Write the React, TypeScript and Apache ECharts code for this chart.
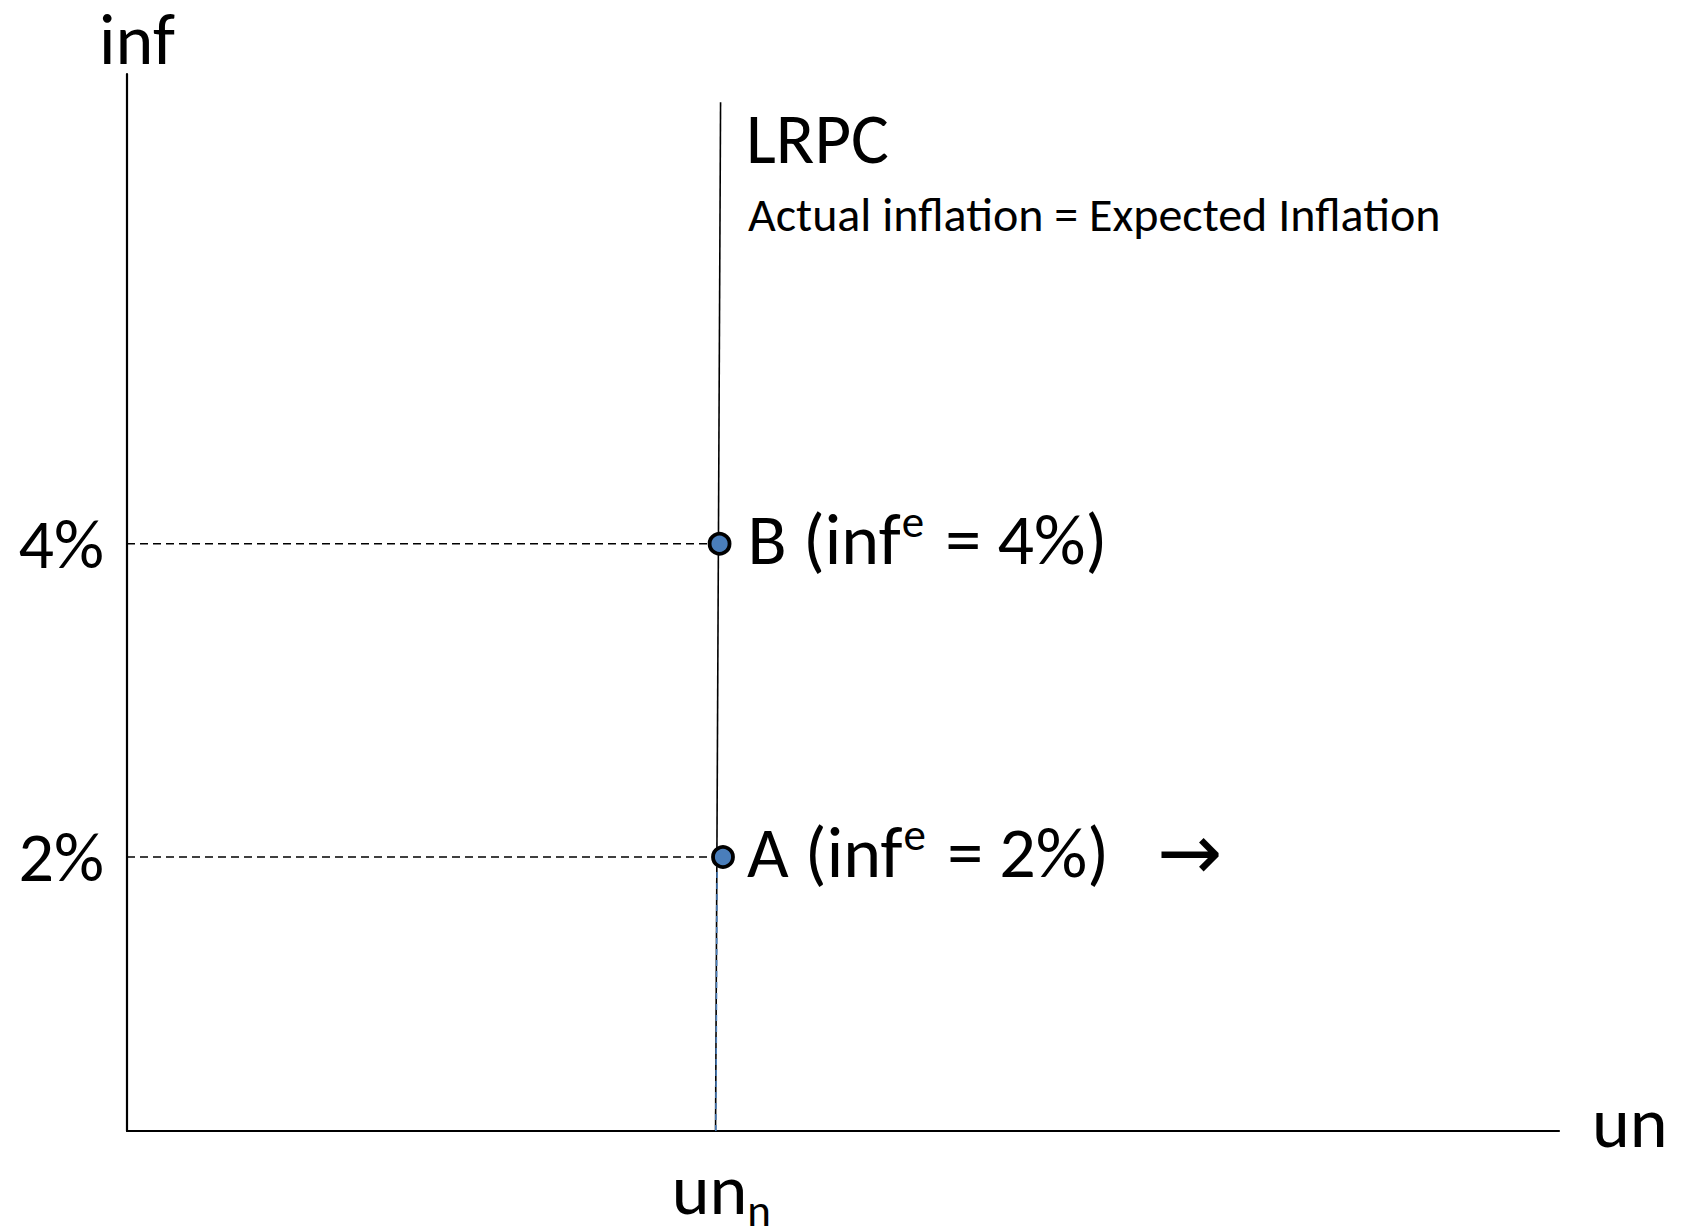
import React, { useEffect, useRef } from 'react';
import * as echarts from 'echarts';

// ---- data ----
const xMin = 0;
const xMax = 100;
const yMin = 0.25;
const yMax = 7;
const unNatural = 41.5; // tick position of un_n label
const lrpcX = [41.1, 41.45];
const lrpcY = [0.25, 6.82];
const pointNames = ['A', 'B'];
const pointX = [41.62, 41.38];
const pointInf = [2, 4];
const yTickValues = [2, 4];
const xTickValues = [unNatural];

const FONT = 'Carlito, Lato, sans-serif';
const BLUE = '#4a7ebb';

export default function App() {
  const ref = useRef<HTMLDivElement>(null);
  useEffect(() => {
    if (!ref.current) return;
    const chart = echarts.init(ref.current, undefined, { renderer: 'svg' });

    const dashSeries = pointNames.map((n, i) => ({
      type: 'line',
      name: 'dash' + n,
      data: [
        [xMin, pointInf[i]],
        [pointX[i], pointInf[i]],
      ],
      symbol: 'none',
      lineStyle: { color: '#000', width: 1.6, type: [8, 5] },
      z: 2,
    }));

    const labelRich = {
      t: { fontSize: 72, lineHeight: 72, fontFamily: FONT, color: '#000', verticalAlign: 'top', padding: [4, 0, 0, 0] },
      s: { fontSize: 45, lineHeight: 40, fontFamily: FONT, color: '#000', verticalAlign: 'top', padding: [0, 5, 0, 1] },
      r: { fontSize: 78, lineHeight: 72, fontFamily: 'DejaVu Sans', color: '#000', verticalAlign: 'top', padding: [1, 0, 0, 48] },
    };

    const option = {
      animation: false,
      grid: { left: 127, right: 124, top: 74, bottom: 101, containLabel: false, outerBoundsMode: 'none' },
      xAxis: {
        type: 'value',
        min: xMin,
        max: xMax,
        splitLine: { show: false },
        axisTick: { show: false },
        axisLine: { show: true, onZero: false, lineStyle: { color: '#000', width: 2.2 } },
        axisLabel: {
          customValues: xTickValues,
          margin: 22,
          formatter: () => '{a|un}{b|n}',
          rich: {
            a: { fontSize: 72, lineHeight: 66, fontFamily: FONT, color: '#000', verticalAlign: 'top' },
            b: { fontSize: 45, lineHeight: 20, fontFamily: FONT, color: '#000', verticalAlign: 'top', padding: [35, 0, 0, 0] },
          },
        },
      },
      yAxis: {
        type: 'value',
        min: yMin,
        max: yMax,
        splitLine: { show: false },
        axisTick: { show: false },
        axisLine: { show: true, onZero: false, lineStyle: { color: '#000', width: 2.2 } },
        axisLabel: {
          customValues: yTickValues,
          margin: 23,
          fontSize: 70,
          fontFamily: FONT,
          color: '#000',
          formatter: (v: number) => v + '%',
        },
      },
      series: [
        {
          type: 'line',
          name: 'LRPC',
          data: [
            [lrpcX[0], lrpcY[0]],
            [lrpcX[1], lrpcY[1]],
          ],
          symbol: 'none',
          lineStyle: { color: '#000', width: 1.6 },
          z: 2,
        },
        {
          type: 'line',
          name: 'down',
          data: [
            [lrpcX[0] + 0.02, yMin],
            [lrpcX[0] + 0.02 + ((lrpcX[1] - lrpcX[0]) * (pointInf[0] - yMin)) / (lrpcY[1] - lrpcY[0]), pointInf[0]],
          ],
          symbol: 'none',
          lineStyle: { color: BLUE, width: 1.6, type: [6, 5] },
          z: 3,
        },
        ...dashSeries,
        {
          type: 'scatter',
          name: 'points',
          symbol: 'circle',
          symbolSize: 20,
          itemStyle: { color: BLUE, borderColor: '#000', borderWidth: 3.8, opacity: 1 },
          z: 5,
          data: pointNames.map((n, i) => ({
            value: [pointX[i], pointInf[i]],
            label: {
              show: true,
              position: 'right',
              distance: n === 'A' ? 12 : 16,
              offset: [0, -9],
              formatter:
                n === 'A'
                  ? '{t|A (inf}{s|e}{t| = 2%)}{r|→}'
                  : '{t|B (inf}{s|e}{t| = 4%)}',
              rich: labelRich,
            },
          })),
        },
      ],
      graphic: [
        {
          type: 'text',
          x: 99,
          y: 39,
          style: { text: 'inf', fontSize: 72, lineHeight: 58, fontFamily: FONT, fill: '#000', align: 'left', verticalAlign: 'middle' },
        },
        {
          type: 'text',
          x: 1592,
          y: 1122,
          style: { text: 'un', fontSize: 72, lineHeight: 60, fontFamily: FONT, fill: '#000', align: 'left', verticalAlign: 'middle' },
        },
        {
          type: 'text',
          x: 746,
          y: 138,
          style: { text: 'LRPC', fontSize: 71, fontFamily: FONT, fill: '#000', align: 'left', verticalAlign: 'middle' },
        },
        {
          type: 'text',
          x: 748,
          y: 214,
          style: {
            text: 'Actual inflation = Expected Inflation',
            fontSize: 48,
            fontFamily: FONT,
            fill: '#000',
            align: 'left',
            verticalAlign: 'middle',
          },
        },
      ],
    };

    chart.setOption(option as any);
    return () => chart.dispose();
  }, []);

  return (
    <div
      ref={ref}
      style={{ position: 'absolute', left: 0, top: 0, width: 1683, height: 1232, background: '#fff' }}
    />
  );
}
